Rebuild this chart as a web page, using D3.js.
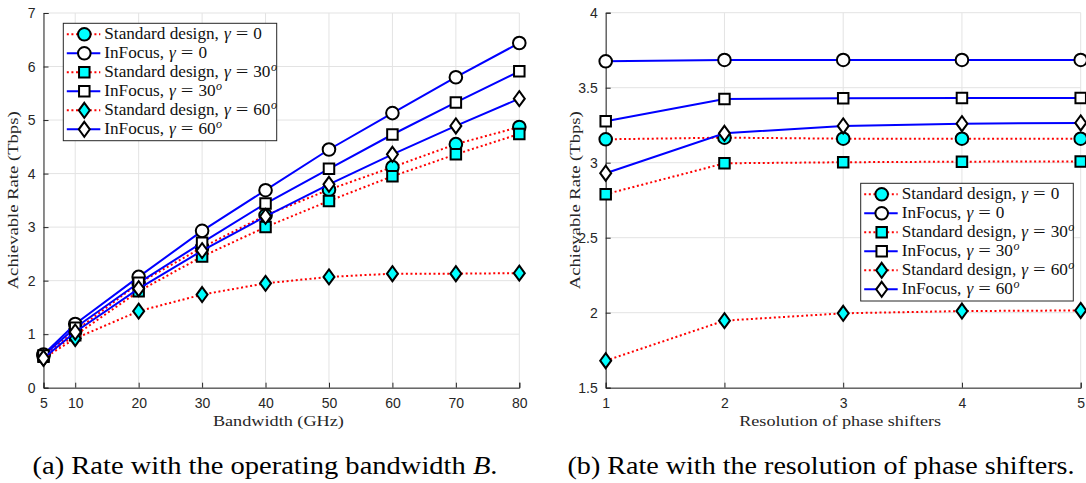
<!DOCTYPE html>
<html><head><meta charset="utf-8">
<script src="https://cdn.jsdelivr.net/npm/d3@7/dist/d3.min.js"></script>
<style>body{margin:0;background:#fff}svg{display:block}</style>
</head><body>
<svg id="c" width="1086" height="483"></svg>
<script>
// ---- data ----
const bandwidth = [5, 10, 20, 30, 40, 50, 60, 70, 80];
const bwTicks = [5, 10, 20, 30, 40, 50, 60, 70, 80];
const rateTicksA = [0, 1, 2, 3, 4, 5, 6, 7];
const aStdG0  = [0.60, 1.06, 1.95, 2.62, 3.22, 3.70, 4.12, 4.55, 4.87];
const aInfG0  = [0.62, 1.19, 2.07, 2.93, 3.69, 4.45, 5.13, 5.80, 6.44];
const aStdG30 = [0.58, 0.98, 1.80, 2.45, 3.00, 3.49, 3.95, 4.36, 4.74];
const aInfG30 = [0.60, 1.12, 1.96, 2.71, 3.44, 4.09, 4.73, 5.33, 5.91];
const aStdG60 = [0.55, 0.92, 1.43, 1.74, 1.95, 2.07, 2.13, 2.13, 2.14];
const aInfG60 = [0.55, 1.04, 1.85, 2.56, 3.20, 3.80, 4.36, 4.89, 5.40];

const resolution = [1, 2, 3, 4, 5];
const resTicks = [1, 2, 3, 4, 5];
const rateTicksB = [1.5, 2, 2.5, 3, 3.5, 4];
const bStdG0  = [3.156, 3.167, 3.160, 3.160, 3.160];
const bInfG0  = [3.676, 3.685, 3.685, 3.685, 3.685];
const bStdG30 = [2.790, 2.996, 3.003, 3.007, 3.008];
const bInfG30 = [3.276, 3.425, 3.430, 3.431, 3.431];
const bStdG60 = [1.680, 1.947, 1.996, 2.011, 2.015];
const bInfG60 = [2.930, 3.196, 3.245, 3.260, 3.265];

const seriesNames = [
  ["Standard design,", "0", false],
  ["InFocus,", "0", false],
  ["Standard design,", "30", true],
  ["InFocus,", "30", true],
  ["Standard design,", "60", true],
  ["InFocus,", "60", true]
];
const captions = ["(a) Rate with the operating bandwidth ", "(b) Rate with the resolution of phase shifters."];

// ---- styles ----
const styles = [
  {shape: "circle",  fill: "#00ffff", color: "#ff0000", dash: "2,2.6"},
  {shape: "circle",  fill: "#ffffff", color: "#0000ff", dash: null},
  {shape: "square",  fill: "#00ffff", color: "#ff0000", dash: "2,2.6"},
  {shape: "square",  fill: "#ffffff", color: "#0000ff", dash: null},
  {shape: "diamond", fill: "#00ffff", color: "#ff0000", dash: "2,2.6"},
  {shape: "diamond", fill: "#ffffff", color: "#0000ff", dash: null}
];
const serif = "'Liberation Serif','DejaVu Serif',serif";
const sans = "'Liberation Sans',Arial,Helvetica,sans-serif";
const svg = d3.select("#c");

function markerPath(shape) {
  if (shape === "circle") return d3.symbol(d3.symbolCircle, Math.PI * 6.3 * 6.3)();
  if (shape === "square") return d3.symbol(d3.symbolSquare, 10.5 * 10.5)();
  return "M0,-7.5L5.5,0L0,7.5L-5.5,0Z";
}

function drawMarker(g, shape, fill, x, y) {
  g.append("path").attr("d", markerPath(shape))
    .attr("transform", `translate(${x},${y})`)
    .attr("fill", fill).attr("stroke", "#000").attr("stroke-width", 2);
}

function legendLabel(g, x, y, name, val, deg) {
  const fs = 17.2;
  const mk = (xx, txt) => g.append("text").attr("x", xx).attr("y", y)
    .attr("font-family", serif).attr("font-size", fs).attr("fill", "#111").text(txt);
  const a = mk(x, name);
  let cx = x + a.node().getComputedTextLength() + 5;
  const gm = mk(cx, "γ").attr("font-style", "italic");
  cx += gm.node().getComputedTextLength() + 5;
  const eq = mk(cx, "=").attr("transform", `translate(${cx},0) scale(1.3,1) translate(${-cx},0)`);
  cx += eq.node().getComputedTextLength() * 1.3 + 5;
  const v = mk(cx, val);
  cx += v.node().getComputedTextLength();
  if (deg) g.append("text").attr("x", cx + 0.5).attr("y", y - 6.5).attr("font-family", serif)
    .attr("font-style", "italic").attr("font-size", 12).attr("fill", "#111").text("o");
}

function panel(opt) {
  const {x0, x1, y0, y1, xDom, yDom, xTicks, yTicks, xs, ys, xLabel, xLabelW, legend, caption, capX, capW} = opt;
  const x = d3.scaleLinear().domain(xDom).range([x0, x1]);
  const y = d3.scaleLinear().domain(yDom).range([y1, y0]);
  const g = svg.append("g");
  // grid
  const grid = g.append("g").attr("stroke", "#e3e3e3").attr("stroke-width", 1);
  xTicks.forEach(v => grid.append("line").attr("x1", x(v)).attr("x2", x(v)).attr("y1", y0).attr("y2", y1));
  yTicks.forEach(v => grid.append("line").attr("x1", x0).attr("x2", x1).attr("y1", y(v)).attr("y2", y(v)));
  // axes
  const ax = g.append("g").attr("transform", `translate(0,${y1})`)
    .call(d3.axisBottom(x).tickValues(xTicks).tickSize(-5).tickPadding(8).tickFormat(d3.format("")));
  const ay = g.append("g").attr("transform", `translate(${x0},0)`)
    .call(d3.axisLeft(y).tickValues(yTicks).tickSize(-5).tickPadding(8).tickFormat(d3.format("")));
  [ax, ay].forEach(a => {
    a.select(".domain").attr("stroke", "#262626").attr("stroke-width", 1);
    a.selectAll(".tick line").attr("stroke", "#262626");
    a.selectAll(".tick text").attr("fill", "#262626").attr("font-family", sans).attr("font-size", 14);
  });
  ax.selectAll(".tick text").attr("dy", "0.85em");
  // series
  const line = d3.line().x((d, i) => x(xs[i])).y(d => y(d));
  ys.forEach((vals, k) => {
    const s = styles[k];
    g.append("path").datum(vals).attr("d", line).attr("fill", "none")
      .attr("stroke", s.color).attr("stroke-width", 2)
      .attr("stroke-dasharray", s.dash);
    vals.forEach((v, i) => drawMarker(g, s.shape, s.fill, x(xs[i]), y(v)));
  });
  // labels
  g.append("text").attr("x", (x0 + x1) / 2 - 3).attr("y", y1 + 38).attr("text-anchor", "middle")
    .attr("font-family", serif).attr("font-size", 15).attr("fill", "#262626")
    .attr("textLength", xLabelW).attr("lengthAdjust", "spacingAndGlyphs").text(xLabel);
  g.append("text").attr("transform", `translate(${x0 - 26},${(y0 + y1) / 2}) rotate(-90)`)
    .attr("text-anchor", "middle").attr("font-family", serif).attr("font-size", 15)
    .attr("textLength", 178).attr("lengthAdjust", "spacingAndGlyphs")
    .attr("fill", "#262626").text("Achievable Rate (Tbps)");
  // legend
  const L = legend;
  const lg = g.append("g");
  lg.append("rect").attr("x", L.x).attr("y", L.y).attr("width", L.w).attr("height", L.h)
    .attr("fill", "#fff").attr("stroke", "#262626").attr("stroke-width", 1);
  seriesNames.forEach((n, k) => {
    const s = styles[k];
    const cy = L.y + 11 + k * 19;
    lg.append("line").attr("x1", L.x + 3.5).attr("x2", L.x + 37).attr("y1", cy).attr("y2", cy)
      .attr("stroke", s.color).attr("stroke-width", 2).attr("stroke-dasharray", s.dash);
    drawMarker(lg, s.shape, s.fill, L.x + 21, cy);
    legendLabel(lg, L.x + 41, cy + 5, n[0], n[1], n[2]);
  });
  // caption
  const ct = svg.append("text").attr("x", capX).attr("y", 474).attr("text-anchor", "middle")
    .attr("font-family", "'Liberation Serif','Times New Roman',serif").attr("font-size", 25).attr("fill", "#000")
    .attr("textLength", capW).attr("lengthAdjust", "spacingAndGlyphs");
  ct.append("tspan").text(caption[0]);
  if (caption[1]) { ct.append("tspan").attr("font-style", "italic").text(caption[1]); ct.append("tspan").text("."); }
}

panel({x0: 43.5, x1: 519.3, y0: 13, y1: 387.7, xDom: [5, 80], yDom: [0, 7],
  xTicks: bwTicks, yTicks: rateTicksA, xs: bandwidth,
  ys: [aStdG0, aInfG0, aStdG30, aInfG30, aStdG60, aInfG60],
  xLabel: "Bandwidth (GHz)", xLabelW: 131, legend: {x: 63.3, y: 23.3, w: 213.4, h: 117.4},
  caption: [captions[0], "B"], capX: 265, capW: 465});

panel({x0: 605.7, x1: 1080.7, y0: 12.7, y1: 387.7, xDom: [1, 5], yDom: [1.5, 4],
  xTicks: resTicks, yTicks: rateTicksB, xs: resolution,
  ys: [bStdG0, bInfG0, bStdG30, bInfG30, bStdG60, bInfG60],
  xLabel: "Resolution of phase shifters", xLabelW: 202, legend: {x: 860.7, y: 183.3, w: 212.6, h: 117.7},
  caption: [captions[1]], capX: 821, capW: 507});
</script>
</body></html>
